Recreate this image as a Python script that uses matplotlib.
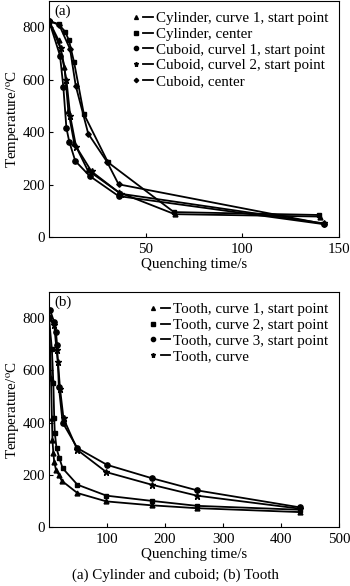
import matplotlib
matplotlib.use("Agg")
import matplotlib.pyplot as plt
from matplotlib.lines import Line2D
from matplotlib.legend_handler import HandlerTuple

plt.rcParams['font.family'] = ['Liberation Serif', 'DejaVu Serif']
plt.rcParams['mathtext.fontset'] = 'stix'

# ---- Panel (a): cylinder and cuboid ----
cyl1_t = [0, 5, 8, 10, 13, 20, 36, 65, 140]
cyl1_T = [825, 750, 650, 480, 360, 255, 171, 87, 78]
cylc_t = [0, 5, 8.3, 10.3, 13, 18, 30.5, 64.6, 139.5]
cylc_T = [825, 812, 784, 751, 666, 470, 285, 95, 84]
cub1_t = [0, 5.7, 7.4, 9, 10.5, 13.6, 21, 36, 142]
cub1_T = [825, 692, 574, 416, 363, 290, 233, 156, 49]
cub2_t = [0, 6, 9, 11, 14, 22, 37, 142]
cub2_T = [825, 720, 600, 460, 345, 250, 165, 52]
cubc_t = [0, 5.3, 10.9, 13.8, 20.3, 30, 36, 142]
cubc_T = [825, 809, 717, 578, 394, 287, 201, 50]
labels_a = ["Cylinder, curve 1, start point", "Cylinder, center",
            "Cuboid, curvel 1, start point", "Cuboid, curvel 2, start point",
            "Cuboid, center"]
markers_a = ['^', 's', 'o', '*', 'D']

# ---- Panel (b): tooth ----
t1_t = [0, 3.5, 5, 6, 7.5, 9, 12, 17, 22, 49, 99, 177, 255, 433]
t1_T = [810, 570, 416, 333, 282, 250, 219, 200, 177, 130, 98, 83, 72, 57]
t2_t = [0, 5, 7.5, 9, 10, 13, 18, 23.5, 49, 99, 177, 255, 433]
t2_T = [800, 680, 550, 416, 361, 301, 263, 225, 162, 120, 100, 81, 66]
t3_t = [2, 8.6, 12, 14, 17, 23.5, 49, 100, 177, 256, 433]
t3_T = [830, 786, 748, 696, 537, 400, 302, 238, 187, 140, 75]
t4_t = [0, 9, 13, 15.5, 19, 25, 49, 99, 177, 255, 433]
t4_T = [800, 775, 677, 632, 530, 416, 295, 210, 162, 120, 70]
labels_b = ["Tooth, curve 1, start point", "Tooth, curve 2, start point",
            "Tooth, curve 3, start point", "Tooth, curve"]
markers_b = ['^', 's', 'o', '*']

fig = plt.figure(figsize=(3.5, 5.86), dpi=100)
axa = fig.add_axes([0.14, 0.5956, 0.8286, 0.4024])
axb = fig.add_axes([0.14, 0.1007, 0.8286, 0.401])

FS = 10.8
def msize(m):
    return {'^': 3.5, 's': 3.5, 'o': 3.8, '*': 4.5, 'D': 2.8}[m]

def draw(ax, series, labels, markers, xmax, xticks, tag):
    handles = []
    for (t, T), lab, m in zip(series, labels, markers):
        ax.plot(t, T, color='black', lw=1.3, marker=m, ms=msize(m),
                markerfacecolor='black', markeredgecolor='black')
        mh = Line2D([], [], ls='none', marker=m, ms=msize(m) * 0.8, color='black')
        lh = Line2D([], [], ls='-', lw=1.3, color='black')
        handles.append((mh, lh))
    ax.set_xlim(0, xmax)
    ax.set_ylim(0, 900)
    ax.set_yticks([0, 200, 400, 600, 800])
    ax.set_xticks(xticks)
    ax.tick_params(direction='in', labelsize=FS, length=3, width=0.8, pad=3)
    ax.tick_params(axis='x', pad=4)
    ax.set_xlabel('Quenching time/s', fontsize=FS, labelpad=1.5)
    ax.set_ylabel('Temperature/$^{\\rm o}$C', fontsize=FS, labelpad=0)
    ax.text(0.02, 0.985, tag, transform=ax.transAxes, fontsize=FS,
            va='top', ha='left')
    for s in ax.spines.values():
        s.set_linewidth(0.8)
    ax.legend(handles, labels, handler_map={tuple: HandlerTuple(ndivide=None, pad=0.2)},
              loc='upper right', frameon=False, fontsize=FS, handlelength=1.5,
              handletextpad=0.2, labelspacing=0.15, borderaxespad=0.6,
              borderpad=0.1)

draw(axa, [(cyl1_t, cyl1_T), (cylc_t, cylc_T), (cub1_t, cub1_T),
           (cub2_t, cub2_T), (cubc_t, cubc_T)], labels_a, markers_a,
     150, [50, 100, 150], '(a)')
draw(axb, [(t1_t, t1_T), (t2_t, t2_T), (t3_t, t3_T), (t4_t, t4_T)],
     labels_b, markers_b, 500, [100, 200, 300, 400, 500], '(b)')

fig.text(0.5, 0.019, '(a) Cylinder and cuboid; (b) Tooth', ha='center',
         va='center', fontsize=FS)

fig.savefig('out.png', dpi=100)
